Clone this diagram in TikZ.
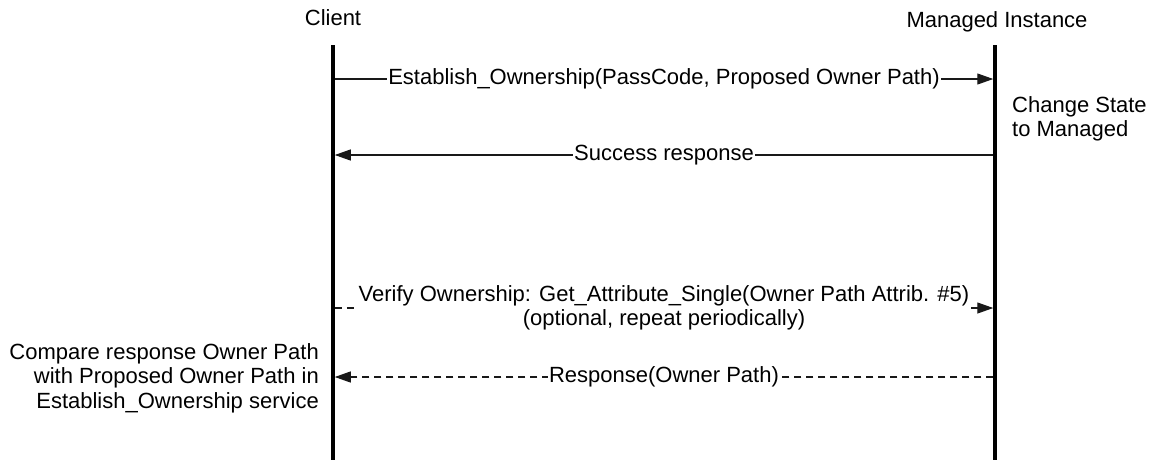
\documentclass[tikz,border=0pt]{standalone}
\usepackage{fontspec}
\setmainfont{Liberation Sans}
\usetikzlibrary{arrows.meta,positioning}

\begin{document}
\begin{tikzpicture}[x=1pt,y=-1pt,>={Triangle[length=16pt,width=11pt]},font=\fontsize{22}{24.5}\selectfont,every node/.style={inner sep=0pt},life/.style={line width=3.5pt},msg/.style={->,line width=1.2pt,draw=black!90,shorten >=1.75pt,shorten <=1.75pt},reply/.style={msg,dash pattern=on 7pt off 5pt},lbl/.style={fill=white,inner sep=1.5pt,align=center},note/.style={align=left}]
\useasboundingbox (0,0) rectangle (1154,459);
\node at (333,18) (client) {Client};
        \node at (997,22) (inst) {Managed Instance};
        \coordinate (c_top) at (333,45);
        \coordinate (c_bot) at (333,461);
        \coordinate (i_top) at (995,45);
        \coordinate (i_bot) at (995,461);
        \draw[life] (c_top) -- (c_bot);
        \draw[life] (i_top) -- (i_bot);
        % messages
        \coordinate (c_1) at (333,79);  \coordinate (i_1) at (995,79);
        \coordinate (c_2) at (333,155); \coordinate (i_2) at (995,155);
        \coordinate (c_3) at (333,308); \coordinate (i_3) at (995,308);
        \coordinate (c_4) at (333,377); \coordinate (i_4) at (995,377);
        \path
            (c_1) edge[msg] node[lbl] {Establish\_Ownership(PassCode, Proposed Owner Path)} (i_1)
            (i_2) edge[msg] node[lbl] {Success response} (c_2)
            (c_3) edge[reply] node[lbl] {Verify Ownership: Get\_Attribute\_Single(Owner Path Attrib. \#5)\\(optional, repeat periodically)} (i_3)
            (i_4) edge[reply] node[lbl] {Response(Owner Path)} (c_4);
        % notes
        \node[note,anchor=west] at (1012,119) (state) {Change State\\to Managed};
        \node[align=right,anchor=east] at (319,378) (compare) {Compare response Owner Path\\with Proposed Owner Path in\\Establish\_Ownership service};
\end{tikzpicture}
\end{document}
